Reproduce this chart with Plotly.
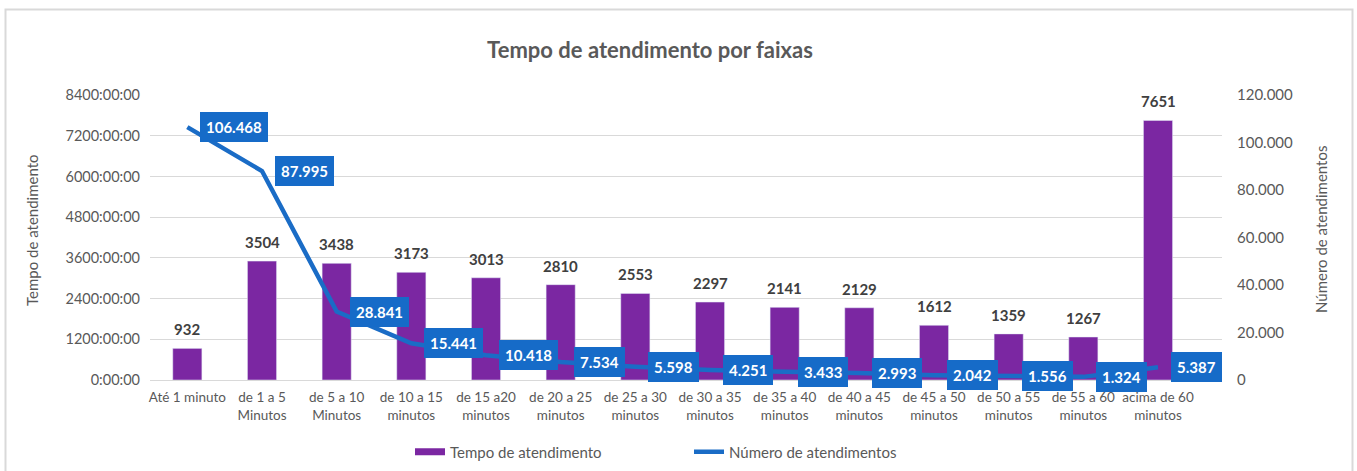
import plotly.graph_objects as go

categories = ["Até 1 minuto", "de 1 a 5<br>Minutos", "de 5 a 10<br>Minutos", "de 10 a 15<br>minutos",
              "de 15 a20<br>minutos", "de 20 a 25<br>minutos", "de 25 a 30<br>minutos", "de 30 a 35<br>minutos",
              "de 35 a 40<br>minutos", "de 40 a 45<br>minutos", "de 45 a 50<br>minutos", "de 50 a 55<br>minutos",
              "de 55 a 60<br>minutos", "acima de 60<br>minutos"]
tempo_horas = [932, 3504, 3438, 3173, 3013, 2810, 2553, 2297, 2141, 2129, 1612, 1359, 1267, 7651]
num_atend = [106468, 87995, 28841, 15441, 10418, 7534, 5598, 4251, 3433, 2993, 2042, 1556, 1324, 5387]
left_ticks = [0, 1200, 2400, 3600, 4800, 6000, 7200, 8400]
right_ticks = [0, 20000, 40000, 60000, 80000, 100000, 120000]

PURPLE = "#7B27A2"
BLUE = "#1A6CC6"
BOX = "#166BC8"
GRAY = "#595959"
FONT = "Lato, Carlito, Calibri, sans-serif"


def br(v):
    return f"{v:,}".replace(",", ".")


W, H = 1357, 471
L, R, T, B = 150, 135, 95, 91
pw, ph = W - L - R, H - T - B


def px_x(x):
    return (x - L) / pw


def px_y(y):
    return (H - B - y) / ph


fig = go.Figure()
fig.add_trace(go.Bar(
    x=categories, y=tempo_horas, name="Tempo de atendimento",
    marker=dict(color=PURPLE), yaxis="y", showlegend=False,
))
# legend-only entry styled like the reference's wide purple swatch
fig.add_trace(go.Scatter(
    x=[None], y=[None], name="Tempo de atendimento", mode="lines",
    line=dict(color=PURPLE, width=7), yaxis="y",
))
fig.add_trace(go.Scatter(
    x=categories, y=num_atend, name="Número de atendimentos",
    mode="lines", line=dict(color=BLUE, width=4.5), yaxis="y2",
))

annotations = []
for c, v in zip(categories, tempo_horas):
    annotations.append(dict(
        x=c, y=v, xref="x", yref="y", text=f"<b>{v}</b>", showarrow=False,
        xanchor="center", yanchor="bottom", yshift=8,
        font=dict(family=FONT, size=15, color="#404040"),
    ))
for c, v in zip(categories, num_atend):
    annotations.append(dict(
        x=c, y=v, xref="x", yref="y2", text=f"<b>{br(v)}</b>", showarrow=False,
        xanchor="left", yanchor="middle", xshift=13,
        bgcolor=BOX, bordercolor=BOX, borderpad=5, borderwidth=1,
        font=dict(family=FONT, size=15, color="white"),
    ))

annotations.append(dict(
    x=px_x(32), y=px_y(230), xref="paper", yref="paper", text="Tempo de atendimento",
    textangle=-90, showarrow=False, xanchor="center", yanchor="middle",
    font=dict(family=FONT, size=15, color=GRAY),
))
annotations.append(dict(
    x=px_x(1321), y=px_y(230), xref="paper", yref="paper", text="Número de atendimentos",
    textangle=-90, showarrow=False, xanchor="center", yanchor="middle",
    font=dict(family=FONT, size=15, color=GRAY),
))

fig.update_layout(
    width=W, height=H,
    margin=dict(l=L, r=R, t=T, b=B, autoexpand=False),
    paper_bgcolor="white", plot_bgcolor="white",
    font=dict(family=FONT, size=14, color=GRAY),
    title=dict(text="<b>Tempo de atendimento por faixas</b>", x=650 / W, xanchor="center",
               y=1 - 50 / H, yanchor="middle", font=dict(family=FONT, size=22, color=GRAY)),
    bargap=0.61,
    showlegend=True,
    legend=dict(orientation="h", x=px_x(410), xanchor="left", y=px_y(452), yanchor="middle",
                entrywidth=234, entrywidthmode="pixels",
                font=dict(family=FONT, size=15, color=GRAY), traceorder="normal"),
    xaxis=dict(showline=True, linecolor="#D9D9D9", linewidth=1, tickfont=dict(family=FONT, size=13.5, color=GRAY),
               ticks="outside", ticklen=5, tickcolor="white", showgrid=False),
    yaxis=dict(range=[0, 8400], tickvals=left_ticks, ticktext=[f"{v}:00:00" for v in left_ticks],
               showgrid=True, gridcolor="#D9D9D9", gridwidth=1, zeroline=False,
               tickfont=dict(family=FONT, size=14.5, color=GRAY), ticklabelstandoff=9),
    yaxis2=dict(range=[0, 120000], tickvals=right_ticks, ticktext=[br(v) for v in right_ticks],
                overlaying="y", side="right", showgrid=False, zeroline=False,
                tickfont=dict(family=FONT, size=15, color=GRAY), ticklabelstandoff=14),
    annotations=annotations,
    shapes=[dict(type="rect", xref="paper", yref="paper", x0=px_x(5.5), x1=px_x(1352.5),
                 y0=px_y(480), y1=px_y(9.5), line=dict(color="#D9D9D9", width=2), layer="below")],
)

fig.write_html("out.html", config={"displayModeBar": False},
               post_script="document.body.style.margin='0px';document.body.style.overflow='hidden';")
